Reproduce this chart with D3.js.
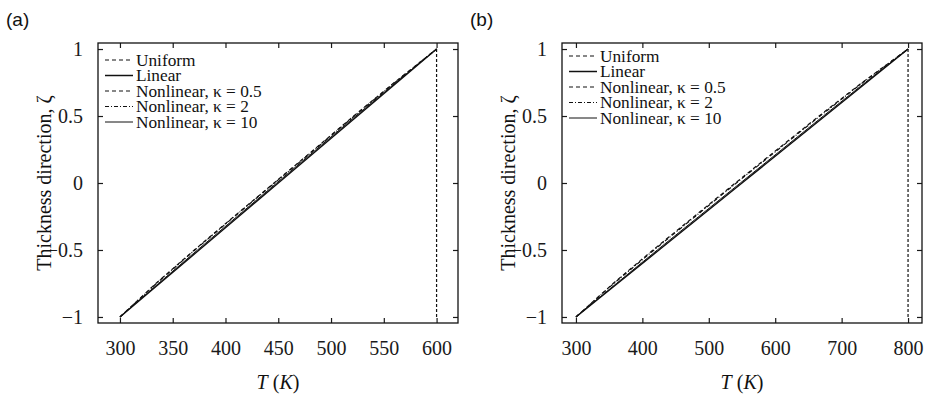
<!DOCTYPE html>
<html>
<head>
<meta charset="utf-8">
<script src="https://cdn.jsdelivr.net/npm/d3@7"></script>
<style>
  body { margin: 0; background: #fff; }
  svg { display: block; }
  .tick text { font-family: "Liberation Serif", "Times New Roman", serif; font-size: 20px; fill: #1a1a1a; }
  .tick line { stroke: #1a1a1a; stroke-width: 1.2; }
</style>
</head>
<body>
<svg width="926" height="397"></svg>
<script>
// thickness coordinate (shared by both panels)
const zeta = [-1, -0.75, -0.5, -0.25, 0, 0.25, 0.5, 0.75, 1];

// panel (a): temperature at each zeta, Tc = 300 K, Tm = 600 K
const aUniform = [600, 600, 600, 600, 600, 600, 600, 600, 600];
const aLinear  = [300, 337.5, 375, 412.5, 450, 487.5, 525, 562.5, 600];
const aK05     = [300, 334, 370.5, 408, 446, 484, 521.5, 560, 600];
const aK2      = [300, 334.5, 371, 408.5, 446.5, 484.5, 522, 560.5, 600];
const aK10     = [300, 336.5, 373.5, 411, 448.5, 486, 523.5, 561.5, 600];

// panel (b): Tc = 300 K, Tm = 800 K
const bUniform = [800, 800, 800, 800, 800, 800, 800, 800, 800];
const bLinear  = [300, 362.5, 425, 487.5, 550, 612.5, 675, 737.5, 800];
const bK05     = [300, 356, 416, 478, 540, 603, 666, 731, 800];
const bK2      = [300, 357, 417.5, 479.5, 541.5, 604.5, 667.5, 732, 800];
const bK10     = [300, 361, 422.5, 485, 547.5, 610, 672.5, 735.5, 800];

const seriesNames = ["Uniform", "Linear", "Nonlinear, κ = 0.5", "Nonlinear, κ = 2", "Nonlinear, κ = 10"];
const aTicks = [300, 350, 400, 450, 500, 550, 600];
const bTicks = [300, 400, 500, 600, 700, 800];
const yTicks = [-1, -0.5, 0, 0.5, 1];

// line style for each series, same order as names
const styles = [
  {dash: "3,2", w: 1.2},
  {dash: null, w: 1.5},
  {dash: "4,3", w: 1.2},
  {dash: "4,2,1,2", w: 1.2},
  {dash: null, w: 1.0}
];

const svg = d3.select("svg");
const serif = '"Liberation Serif", "Times New Roman", serif';
const ink = "#111";

function drawPanel(p) {
  let x = d3.scaleLinear().domain(p.xDomain).range([p.left, p.right]);
  let y = d3.scaleLinear().domain([-1.045, 1.045]).range([p.bottom, p.top]);

  let g = svg.append("g");

  // panel letter
  svg.append("text")
    .attr("x", p.letterX).attr("y", 26)
    .style("font-family", '"Liberation Sans", Arial, sans-serif')
    .style("font-size", "19px")
    .style("fill", ink)
    .text(p.letter);

  // axes, ticks pointing inward
  g.append("g")
    .attr("transform", `translate(0,${p.bottom})`)
    .call(d3.axisBottom(x).tickValues(p.xTicks).tickSizeInner(-5).tickSizeOuter(0).tickPadding(18))
    .call(a => a.select(".domain").remove());
  g.append("g")
    .attr("transform", `translate(0,${p.top})`)
    .call(d3.axisTop(x).tickValues(p.xTicks).tickSizeInner(-5).tickSizeOuter(0).tickFormat(""))
    .call(a => a.select(".domain").remove());
  g.append("g")
    .attr("transform", `translate(${p.left},0)`)
    .call(d3.axisLeft(y).tickValues(yTicks).tickSizeInner(-5).tickSizeOuter(0).tickPadding(15)
      .tickFormat(d3.format("")))
    .call(a => a.select(".domain").remove());
  g.append("g")
    .attr("transform", `translate(${p.right},0)`)
    .call(d3.axisRight(y).tickValues(yTicks).tickSizeInner(-5).tickSizeOuter(0).tickFormat(""))
    .call(a => a.select(".domain").remove());

  g.append("rect")
    .attr("x", p.left).attr("y", p.top)
    .attr("width", p.right - p.left).attr("height", p.bottom - p.top)
    .attr("fill", "none").attr("stroke", ink).attr("stroke-width", 1.3);

  // curves
  let line = d3.line().x(d => x(d[0])).y(d => y(d[1]));
  p.series.forEach((vals, i) => {
    g.append("path")
      .datum(vals.map((t, j) => [t, zeta[j]]))
      .attr("d", line)
      .attr("fill", "none")
      .attr("stroke", ink)
      .attr("stroke-width", styles[i].w)
      .attr("stroke-dasharray", styles[i].dash);
  });

  // legend
  let leg = g.append("g").attr("transform", `translate(${p.left},${p.legendTop})`);
  seriesNames.forEach((name, i) => {
    let yy = i * 15.5;
    leg.append("line")
      .attr("x1", 7).attr("x2", 35).attr("y1", yy).attr("y2", yy)
      .attr("stroke", ink)
      .attr("stroke-width", styles[i].w)
      .attr("stroke-dasharray", i == 0 ? "4,3" : styles[i].dash);
    leg.append("text")
      .attr("x", 38).attr("y", yy + 5.5)
      .style("font-family", serif).style("font-size", "17.3px").style("fill", ink)
      .text(name);
  });

  // axis titles
  svg.append("text")
    .attr("transform", `translate(${p.yLabelX},${(p.top + p.bottom) / 2}) rotate(-90)`)
    .attr("text-anchor", "middle")
    .style("font-family", serif).style("font-size", "20px").style("fill", ink)
    .text("Thickness direction, ζ");

  let xl = svg.append("text")
    .attr("x", (p.left + p.right) / 2).attr("y", 389)
    .attr("text-anchor", "middle")
    .style("font-family", serif).style("font-size", "20px").style("fill", ink);
  xl.append("tspan").style("font-style", "italic").text("T");
  xl.append("tspan").text(" (");
  xl.append("tspan").style("font-style", "italic").text("K");
  xl.append("tspan").text(")");
}

drawPanel({
  letter: "(a)", letterX: 6,
  left: 98, right: 458, top: 43, bottom: 323,
  xDomain: [279.2, 620.3], xTicks: aTicks,
  series: [aUniform, aLinear, aK05, aK2, aK10],
  legendTop: 60, yLabelX: 51
});

drawPanel({
  letter: "(b)", letterX: 470,
  left: 562, right: 922, top: 43, bottom: 323,
  xDomain: [279, 821], xTicks: bTicks,
  series: [bUniform, bLinear, bK05, bK2, bK10],
  legendTop: 56, yLabelX: 515
});
</script>
</body>
</html>
